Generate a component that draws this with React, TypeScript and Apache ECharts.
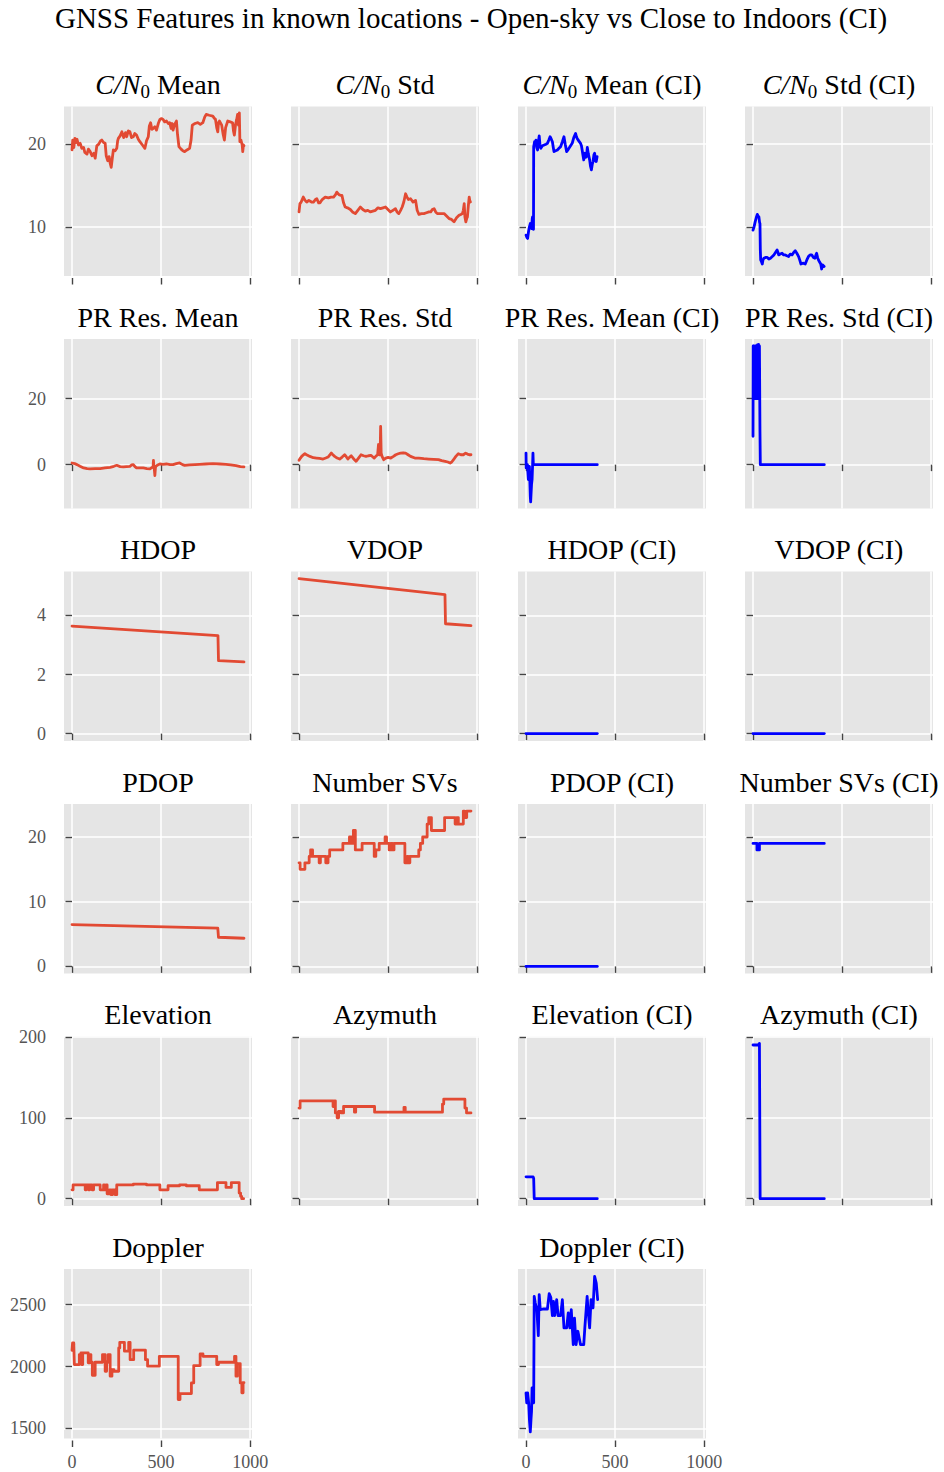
import React, { useEffect, useRef } from "react";
import * as echarts from "echarts";

// ---------- axis / tick values ----------
const X_RANGE = [-45, 1010];
const X_TICKS = [0, 500, 1000];
const ROW_Y_RANGE = [
  [4.05, 24.56],
  [-13.3, 38.1],
  [-0.25, 5.49],
  [-1.1, 25.1],
  [-9, 200.5],
  [1419, 2788],
];
const ROW_Y_TICKS = [
  [10, 20],
  [0, 20],
  [0, 2, 4],
  [0, 10, 20],
  [0, 100, 200],
  [1500, 2000, 2500],
];

// ---------- series values ([sample index, value]) ----------
const cn0Mean = [[0,19.3],[4,20.5],[10,19.6],[16,20.7],[22,20.2],[28,20.6],[36,19.9],[46,20.1],[55,19.5],[65,19.6],[72,19.0],[84,18.8],[92,19.4],[102,19.1],[112,18.6],[122,18.9],[130,18.3],[139,19.8],[150,20.0],[160,20.4],[167,20.5],[177,20.2],[186,20.1],[192,18.6],[200,18.0],[208,18.5],[214,17.7],[220,17.2],[226,18.3],[232,19.3],[242,19.2],[251,19.5],[256,20.4],[260,20.7],[270,21.0],[280,21.5],[290,20.8],[300,21.4],[307,20.9],[316,21.6],[325,21.5],[334,20.8],[344,20.9],[352,21.3],[362,21.1],[372,20.6],[381,20.3],[395,19.9],[409,19.5],[418,20.4],[428,20.9],[434,22.2],[441,22.6],[448,21.8],[455,21.9],[465,22.1],[474,21.7],[484,22.5],[493,23.0],[502,23.1],[511,23.0],[520,22.7],[530,22.8],[540,22.5],[548,22.6],[556,21.9],[562,22.5],[567,21.7],[576,22.4],[586,22.8],[592,21.2],[600,19.7],[612,19.4],[622,19.2],[632,19.1],[645,19.3],[660,19.5],[668,20.5],[675,22.3],[690,22.5],[706,22.6],[720,22.4],[734,22.6],[745,23.3],[753,23.6],[770,23.5],[790,23.4],[800,23.1],[805,23.0],[812,22.0],[818,21.5],[822,22.6],[827,22.8],[840,22.3],[848,21.2],[855,20.5],[862,22.0],[874,22.8],[888,22.7],[901,22.6],[906,21.6],[911,21.1],[918,22.4],[924,23.0],[929,23.6],[934,22.3],[939,23.8],[942,20.3],[948,20.5],[955,19.9],[958,19.1],[962,19.9],[965,19.8]];
const cn0Std = [[0,11.8],[5,12.8],[12,13.0],[24,13.6],[34,13.2],[43,13.0],[55,13.2],[70,13.0],[81,13.0],[92,13.3],[100,13.4],[110,12.9],[118,12.9],[130,13.3],[147,13.6],[165,13.5],[180,13.6],[194,13.6],[205,13.9],[212,14.2],[224,13.9],[235,13.8],[241,13.8],[250,12.9],[259,12.4],[272,12.3],[288,12.1],[300,11.8],[316,11.6],[330,12.0],[344,12.4],[358,12.1],[372,11.9],[386,12.0],[400,11.8],[414,11.9],[429,12.0],[443,12.3],[457,12.2],[471,12.3],[485,12.4],[499,12.1],[513,11.8],[527,12.0],[541,12.2],[550,11.8],[560,11.6],[570,12.0],[579,12.4],[588,13.0],[598,14.0],[606,13.6],[614,13.3],[626,13.4],[640,13.0],[654,13.2],[663,12.0],[673,11.5],[687,11.6],[701,11.6],[715,11.7],[729,11.8],[739,11.8],[748,12.1],[758,12.2],[767,11.8],[776,11.6],[795,11.6],[814,11.6],[828,11.3],[842,11.0],[856,10.9],[870,10.6],[884,11.1],[898,11.4],[908,11.5],[917,11.6],[922,12.0],[927,12.8],[931,11.2],[936,10.6],[941,11.0],[945,11.2],[950,12.5],[955,13.6],[958,13.2],[962,13.0],[965,13.0]];
const cn0MeanCI = [[0,9.0],[5,8.7],[9,8.6],[14,9.4],[19,10.0],[24,10.4],[28,9.9],[31,9.8],[35,11.0],[37,11.2],[40,10.4],[42,9.7],[43,19.7],[48,20.3],[52,19.9],[56,20.5],[60,19.6],[65,19.3],[70,20.4],[74,21.0],[78,20.0],[83,19.5],[92,19.8],[102,19.9],[112,20.0],[120,20.1],[128,20.5],[135,20.9],[142,20.6],[148,20.3],[153,19.6],[157,19.1],[166,19.2],[176,19.3],[185,19.5],[194,19.7],[204,20.3],[213,20.9],[220,20.0],[228,19.1],[235,19.3],[241,19.5],[250,19.8],[259,20.1],[268,20.8],[278,21.3],[283,20.9],[287,20.7],[296,20.4],[306,20.1],[311,19.8],[315,19.3],[320,18.6],[324,18.1],[330,18.9],[335,18.4],[339,18.5],[344,19.6],[350,18.8],[357,18.1],[362,17.3],[367,16.9],[372,17.6],[376,17.9],[381,18.7],[385,18.9],[390,18.0],[394,17.9],[399,18.5]];
const cn0StdCI = [[0,9.6],[6,10.0],[12,10.6],[18,11.1],[24,11.5],[29,11.3],[33,11.2],[37,10.5],[39,10.4],[41,7.2],[43,6.0],[47,5.8],[52,5.5],[56,6.0],[61,6.2],[70,6.3],[80,6.3],[89,6.1],[98,6.2],[108,6.4],[117,6.6],[126,6.9],[135,7.2],[140,6.9],[144,6.6],[153,6.7],[163,6.8],[172,6.6],[181,6.6],[190,6.5],[200,6.4],[209,6.7],[219,6.6],[228,6.9],[237,7.1],[246,6.8],[256,6.4],[262,6.0],[269,5.5],[280,5.6],[293,5.5],[302,6.0],[311,6.4],[320,6.6],[330,6.6],[339,6.3],[348,6.2],[353,6.6],[357,6.8],[362,6.3],[367,6.0],[372,5.8],[380,5.5],[385,4.9],[390,5.4],[395,5.3],[399,5.2]];

const prMean = [[0,0.5],[15,0.3],[28,0.0],[45,-0.5],[65,-1.0],[85,-1.2],[102,-1.3],[130,-1.2],[158,-1.2],[185,-1.0],[214,-0.8],[235,-0.5],[251,-0.2],[270,-0.6],[288,-0.7],[305,-0.6],[325,-0.5],[335,-0.1],[344,0.0],[353,-0.6],[362,-1.0],[380,-1.0],[400,-1.0],[420,-1.2],[437,-1.3],[450,-0.8],[455,-0.7],[457,1.3],[459,-0.4],[462,-1.5],[465,-3.3],[468,-1.0],[470,-0.5],[478,-0.2],[493,0.2],[510,0.1],[530,0.2],[550,0.0],[567,0.0],[585,0.3],[604,0.5],[620,0.0],[632,-0.2],[660,-0.1],[690,0.0],[716,0.1],[750,0.2],[790,0.3],[830,0.2],[864,0.1],[890,-0.1],[920,-0.3],[945,-0.6],[965,-0.7]];
const prStd = [[0,1.3],[8,2.0],[15,2.5],[25,3.0],[33,3.3],[45,2.9],[61,2.5],[80,2.1],[98,2.0],[115,1.9],[135,1.7],[150,2.0],[163,2.3],[172,2.9],[181,3.5],[190,3.0],[200,2.5],[214,2.0],[228,1.7],[242,2.3],[256,3.0],[265,2.4],[274,1.7],[283,2.2],[293,2.7],[306,1.8],[320,1.0],[334,2.0],[348,3.0],[362,2.7],[376,2.5],[390,2.7],[404,2.8],[413,2.4],[422,2.0],[432,2.6],[441,3.0],[446,6.1],[450,3.0],[455,3.0],[458,11.6],[461,3.5],[466,2.5],[475,1.5],[487,2.0],[500,2.2],[515,2.0],[530,2.5],[543,3.0],[557,3.3],[570,3.5],[584,3.6],[598,3.5],[612,3.0],[626,2.5],[650,2.0],[672,2.0],[700,1.8],[728,1.7],[755,1.6],[783,1.5],[800,1.2],[820,1.0],[835,0.8],[848,0.5],[857,0.8],[867,1.5],[880,2.5],[894,3.3],[908,3.0],[922,3.0],[935,3.5],[945,3.2],[955,3.0],[965,3.0]];
const prMeanCI = [[0,3.5],[1,-1.0],[4,0.0],[6,-0.3],[8,0.0],[10,-2.0],[13,-4.5],[16,-2.0],[19,-0.5],[22,-6.0],[24,-9.6],[26,-11.3],[28,-9.1],[31,-6.0],[34,-4.5],[37,0.0],[39,3.5],[41,0.0],[400,0.0]];
const prStdCI = [[0,8.6],[1,36.0],[3,20.0],[5,36.0],[8,33.0],[10,20.0],[12,36.0],[15,24.0],[17,36.0],[19,20.0],[21,35.0],[24,28.0],[26,36.4],[29,20.0],[31,36.5],[33,30.0],[36,36.0],[39,10.0],[41,0.0],[400,0.0]];

const hdop = [[0,3.64],[819,3.32],[822,2.47],[965,2.43]];
const vdop = [[0,5.25],[819,4.71],[822,3.72],[965,3.66]];
const hdopCI = [[0,0],[400,0]];
const vdopCI = [[0,0],[400,0]];

const pdop = [[0,6.45],[818,5.9],[822,4.5],[965,4.35]];
const numSV = [[0,16],[6,15],[33,16],[57,17],[65,18],[76,17],[113,16],[120,17],[150,16],[163,17],[172,18],[246,19],[283,20],[293,19],[305,21],[316,18],[354,19],[422,17],[431,18],[450,19],[483,20],[491,19],[506,18],[515,19],[524,18],[533,19],[594,16],[607,17],[612,16],[622,17],[672,18],[681,19],[694,20],[719,22],[728,23],[743,21],[817,23],[876,22],[885,23],[894,22],[922,24],[928,23],[941,24],[965,24]];
const pdopCI = [[0,0],[400,0]];
const numSVCI = [[0,19],[22,18],[36,19],[400,19]];

const elevation = [[0,11],[6,17],[74,11],[80,17],[93,11],[99,17],[112,11],[121,17],[158,11],[177,17],[182,11],[191,17],[197,6],[210,11],[219,5],[227,11],[242,5],[251,17],[344,18],[418,17],[493,11],[539,16],[604,17],[641,16],[714,11],[816,20],[864,14],[894,20],[938,7],[946,3],[952,0],[963,0]];
const azimuth = [[0,112],[6,121],[191,114],[198,121],[204,106],[214,100],[222,108],[236,106],[250,114],[311,107],[318,114],[424,107],[589,113],[596,107],[805,117],[812,123],[931,112],[940,106],[965,106]];
const elevationCI = [[0,27],[40,27],[43,25],[46,0],[400,0]];
const azimuthCI = [[0,190],[30,190],[36,192],[40,0],[400,0]];

const doppler = [[0,2130],[3,2191],[10,2177],[13,2016],[37,2016],[41,2097],[50,2110],[54,2016],[60,2110],[87,2110],[91,2030],[102,2097],[106,2035],[114,1930],[130,2035],[171,2097],[186,1962],[194,2035],[203,2097],[214,1922],[224,1976],[235,1962],[262,2150],[268,2196],[294,2124],[318,2196],[326,2056],[346,2132],[412,2056],[424,2003],[490,2083],[596,1734],[606,1782],[670,1868],[683,2008],[719,2102],[735,2083],[812,2016],[822,2035],[912,2083],[920,1922],[928,2024],[944,1868],[953,1788],[960,1870],[965,1874]];
const dopplerCI = [[0,1788],[4,1707],[9,1788],[15,1707],[19,1573],[24,1473],[28,1573],[31,1640],[34,1828],[37,1734],[43,1707],[46,2567],[52,2513],[61,2460],[69,2250],[74,2581],[80,2460],[100,2465],[120,2465],[130,2589],[139,2560],[148,2411],[154,2527],[161,2411],[172,2540],[180,2411],[194,2411],[204,2540],[213,2312],[228,2312],[237,2433],[246,2312],[254,2460],[265,2177],[272,2392],[281,2177],[291,2285],[306,2177],[324,2177],[330,2312],[343,2567],[348,2460],[357,2312],[365,2540],[376,2473],[385,2728],[394,2675],[402,2540]];

// ---------- layout / style ----------
const FONT = "'Liberation Serif', 'DejaVu Serif', serif";
const RED = "#E24A33";
const BLUE = "#0000FF";
const COL_LEFT = [64, 291, 518, 745];
const ROW_TOP = [106.5, 339, 571.5, 804, 1036.5, 1269];
const PLOT_W = 188;
const PLOT_H = 169.5;

type Panel = { title: string; cn0?: boolean; data: number[][]; row: number; col: number; ci: boolean; step?: boolean };

const panels: Panel[] = [
  { title: " Mean", cn0: true, data: cn0Mean, row: 0, col: 0, ci: false },
  { title: " Std", cn0: true, data: cn0Std, row: 0, col: 1, ci: false },
  { title: " Mean (CI)", cn0: true, data: cn0MeanCI, row: 0, col: 2, ci: true },
  { title: " Std (CI)", cn0: true, data: cn0StdCI, row: 0, col: 3, ci: true },
  { title: "PR Res. Mean", data: prMean, row: 1, col: 0, ci: false },
  { title: "PR Res. Std", data: prStd, row: 1, col: 1, ci: false },
  { title: "PR Res. Mean (CI)", data: prMeanCI, row: 1, col: 2, ci: true },
  { title: "PR Res. Std (CI)", data: prStdCI, row: 1, col: 3, ci: true },
  { title: "HDOP", data: hdop, row: 2, col: 0, ci: false },
  { title: "VDOP", data: vdop, row: 2, col: 1, ci: false },
  { title: "HDOP (CI)", data: hdopCI, row: 2, col: 2, ci: true },
  { title: "VDOP (CI)", data: vdopCI, row: 2, col: 3, ci: true },
  { title: "PDOP", data: pdop, row: 3, col: 0, ci: false },
  { title: "Number SVs", data: numSV, row: 3, col: 1, ci: false, step: true },
  { title: "PDOP (CI)", data: pdopCI, row: 3, col: 2, ci: true },
  { title: "Number SVs (CI)", data: numSVCI, row: 3, col: 3, ci: true, step: true },
  { title: "Elevation", data: elevation, row: 4, col: 0, ci: false, step: true },
  { title: "Azymuth", data: azimuth, row: 4, col: 1, ci: false, step: true },
  { title: "Elevation (CI)", data: elevationCI, row: 4, col: 2, ci: true },
  { title: "Azymuth (CI)", data: azimuthCI, row: 4, col: 3, ci: true },
  { title: "Doppler", data: doppler, row: 5, col: 0, ci: false, step: true },
  { title: "Doppler (CI)", data: dopplerCI, row: 5, col: 2, ci: true },
];

function buildOption() {
  const TITLE_SIZE = 28;
  const TITLE_LH = 32;
  const titles: any[] = [
    {
      text: "GNSS Features in known locations - Open-sky vs Close to Indoors (CI)",
      left: 471,
      top: 18 - TITLE_LH / 2,
      textAlign: "center",
      padding: 0,
      textStyle: { fontFamily: FONT, fontSize: 29, fontWeight: "normal", color: "#000", lineHeight: TITLE_LH },
    },
  ];
  const base = { fontFamily: FONT, fontSize: TITLE_SIZE, color: "#000", lineHeight: TITLE_LH, fontWeight: "normal" };
  panels.forEach((p) => {
    const cx = COL_LEFT[p.col] + PLOT_W / 2;
    const cy = ROW_TOP[p.row] - 22;
    titles.push({
      text: p.cn0 ? `{i|C/N}{s|0}{n|${p.title}}` : p.title,
      left: cx,
      top: cy - TITLE_LH / 2,
      textAlign: "center",
      padding: 0,
      textStyle: {
        ...base,
        rich: {
          n: { ...base },
          i: { ...base, fontStyle: "italic" },
          s: { ...base, fontSize: 19, lineHeight: 19, verticalAlign: "bottom" },
        },
      },
    });
  });

  const grid = panels.map((p) => ({
    left: COL_LEFT[p.col],
    top: ROW_TOP[p.row],
    width: PLOT_W,
    height: PLOT_H,
    show: true,
    backgroundColor: "#E5E5E5",
    borderWidth: 0,
  }));

  const tickStyle = { color: "#444444", width: 1.4 };
  const labelStyle = {
    color: "#555555",
    fontFamily: FONT,
    fontSize: 18,
    formatter: (v: number) => String(v),
  };

  const xAxis = panels.map((p, i) => ({
    type: "value",
    gridIndex: i,
    min: X_RANGE[0],
    max: X_RANGE[1],
    offset: 2,
    axisLine: { show: false },
    axisTick: { show: true, length: 6.5, lineStyle: tickStyle, customValues: X_TICKS },
    axisLabel: { show: p.row === 5, customValues: X_TICKS, margin: 12, ...labelStyle },
    splitLine: { show: true, lineStyle: { color: "#FFFFFF", width: 1.5 } },
  }));

  const yAxis = panels.map((p, i) => ({
    type: "value",
    gridIndex: i,
    min: ROW_Y_RANGE[p.row][0],
    max: ROW_Y_RANGE[p.row][1],
    offset: 2,
    axisLine: { show: false },
    axisTick: { show: true, length: 6.5, lineStyle: tickStyle, customValues: ROW_Y_TICKS[p.row] },
    axisLabel: { show: p.col === 0, customValues: ROW_Y_TICKS[p.row], margin: 16, ...labelStyle },
    splitLine: { show: true, lineStyle: { color: "#FFFFFF", width: 1.5 } },
  }));

  const series = panels.map((p, i) => ({
    type: "line",
    xAxisIndex: i,
    yAxisIndex: i,
    data: p.data,
    symbol: "none",
    showSymbol: false,
    step: p.step ? "end" : false,
    silent: true,
    clip: true,
    z: 5,
    lineStyle: { color: p.ci ? BLUE : RED, width: 2.8, join: "round", cap: "round" },
  }));

  return {
    animation: false,
    backgroundColor: "#FFFFFF",
    title: titles,
    grid,
    xAxis,
    yAxis,
    series,
  };
}

export default function App() {
  const ref = useRef<HTMLDivElement>(null);
  useEffect(() => {
    if (!ref.current) return;
    const chart = echarts.init(ref.current, undefined, { renderer: "svg", width: 944, height: 1472 });
    chart.setOption(buildOption() as any);
    return () => chart.dispose();
  }, []);
  return (
    <div
      ref={ref}
      style={{ position: "absolute", left: 0, top: 0, width: 944, height: 1472, background: "#fff" }}
    />
  );
}
